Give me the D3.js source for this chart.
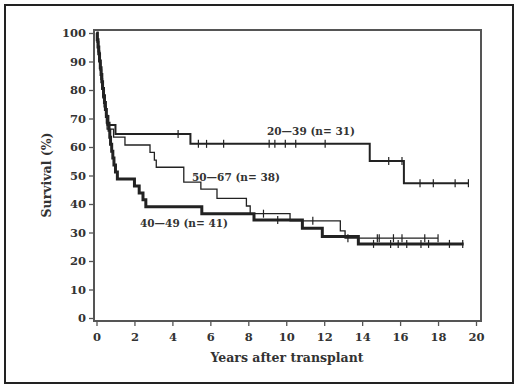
<!DOCTYPE html>
<html>
<head>
<meta charset="utf-8">
<script src="https://cdn.jsdelivr.net/npm/d3@7"></script>
<style>
  body { margin: 0; background: #fff; }
  text { font-family: "DejaVu Serif", serif; font-weight: bold; fill: #333; }
</style>
</head>
<body>
<div id="chart"></div>
<script>
// Kaplan-Meier steps: [years, survival %]
const steps2039 = [[0,100],[0.05,96.8],[0.1,93.5],[0.15,90.3],[0.2,87.1],[0.25,83.9],[0.3,80.6],[0.35,77.4],
  [0.42,74.2],[0.5,71.0],[0.58,67.7],[1.0,64.6],[4.95,61.1],[14.4,55.1],[16.2,47.3]];
const end2039 = 19.6;
const cens2039 = [4.3,5.37,5.8,6.7,9.1,9.4,9.95,10.5,12.05,15.4,16.1,17.05,17.75,18.9,19.6];

const steps4049 = [[0,100],[0.04,97.6],[0.08,95.1],[0.12,92.7],[0.16,90.2],[0.2,87.8],[0.24,85.4],[0.28,82.9],
  [0.32,80.5],[0.37,78.0],[0.42,75.6],[0.47,73.2],[0.52,70.7],[0.6,68.3],[0.66,65.9],[0.7,63.4],[0.74,61.0],
  [0.8,58.5],[0.86,56.1],[0.92,53.7],[1.0,51.2],[1.1,48.8],[2.0,46.3],[2.25,43.9],[2.45,41.5],[2.6,39.0],
  [5.55,36.6],[8.3,34.4],[10.85,31.5],[11.9,28.6],[13.8,26.0]];
const end4049 = 19.35;
const cens4049 = [9.55,14.6,15.5,15.9,16.35,17.1,17.5,18.6,19.3];

const steps5067 = [[0,100],[0.06,97.4],[0.1,94.7],[0.14,92.1],[0.18,89.5],[0.22,86.8],[0.26,84.2],[0.3,81.6],
  [0.34,78.9],[0.38,76.3],[0.43,73.7],[0.48,71.1],[0.52,68.4],[0.56,66.3],[0.9,63.5],[1.5,60.7],[2.82,58.1],
  [3.05,55.4],[3.15,52.9],[4.6,47.7],[5.5,45.2],[6.35,42.0],[7.9,39.3],[8.1,36.6],[10.2,34.1],[12.85,30.6],[13.1,28.0]];
const end5067 = 18.0;
const cens5067 = [8.8,11.4,13.25,14.8,14.9,15.65,16.1,17.3,18.0];

const xTicks = [0,2,4,6,8,10,12,14,16,18,20];
const yTicks = [0,10,20,30,40,50,60,70,80,90,100];

const width = 520, height = 392;
const svg = d3.select("#chart").append("svg")
  .attr("width", width).attr("height", height);

// outer border
svg.append("rect")
  .attr("x", 5).attr("y", 5).attr("width", 508).attr("height", 378)
  .attr("fill", "none").attr("stroke", "#222").attr("stroke-width", 2);

const x = d3.scaleLinear().domain([0, 20]).range([96.5, 476]);
const y = d3.scaleLinear().domain([0, 100]).range([318, 33]);

// plot frame
svg.append("rect")
  .attr("x", 94).attr("y", 30).attr("width", 387).attr("height", 291)
  .attr("fill", "none").attr("stroke", "#555").attr("stroke-width", 2);

// axes
const xAxis = svg.append("g")
  .attr("transform", "translate(0,321)")
  .call(d3.axisBottom(x).tickValues(xTicks).tickSize(5).tickPadding(7));
const yAxis = svg.append("g")
  .attr("transform", "translate(94,0)")
  .call(d3.axisLeft(y).tickValues(yTicks).tickSize(5).tickPadding(3));
[xAxis, yAxis].forEach(function (g) {
  g.select(".domain").remove();
  g.selectAll("line").attr("stroke", "#555").attr("stroke-width", 1.3);
  g.selectAll("text").attr("font-size", 11.5).style("fill", "#333")
    .attr("font-family", "DejaVu Serif").attr("font-weight", "bold");
});

// axis titles
svg.append("text")
  .attr("x", 287).attr("y", 362).attr("text-anchor", "middle")
  .attr("font-size", 12.5).text("Years after transplant");
svg.append("text")
  .attr("transform", "translate(51,175) rotate(-90)").attr("text-anchor", "middle")
  .attr("font-size", 12.5).text("Survival (%)");

// curves
function drawCurve(steps, end, cens, lw) {
  const pts = steps.concat([[end, steps[steps.length - 1][1]]]);
  svg.append("path")
    .datum(pts)
    .attr("fill", "none")
    .attr("stroke", "#222")
    .attr("stroke-width", lw)
    .attr("d", d3.line().curve(d3.curveStepAfter)
      .x(function (d) { return x(d[0]); })
      .y(function (d) { return y(d[1]); }));

  // censoring ticks
  function survAt(t) {
    let s = 100;
    steps.forEach(function (d) { if (d[0] <= t) s = d[1]; });
    return s;
  }
  svg.selectAll(null)
    .data(cens)
    .enter().append("line")
    .attr("x1", function (d) { return x(d); })
    .attr("x2", function (d) { return x(d); })
    .attr("y1", function (d) { return y(survAt(d)) - 4; })
    .attr("y2", function (d) { return y(survAt(d)) + 4; })
    .attr("stroke", "#222")
    .attr("stroke-width", 1.2);
}

drawCurve(steps5067, end5067, cens5067, 1.3);
drawCurve(steps2039, end2039, cens2039, 2);
drawCurve(steps4049, end4049, cens4049, 3);

// group labels
svg.append("text").attr("x", 267).attr("y", 135).attr("font-size", 10.5).text("20\u201439  (n= 31)");
svg.append("text").attr("x", 192).attr("y", 181).attr("font-size", 10.5).text("50\u201467  (n= 38)");
svg.append("text").attr("x", 140).attr("y", 227).attr("font-size", 10.5).text("40\u201449  (n= 41)");
</script>
</body>
</html>
